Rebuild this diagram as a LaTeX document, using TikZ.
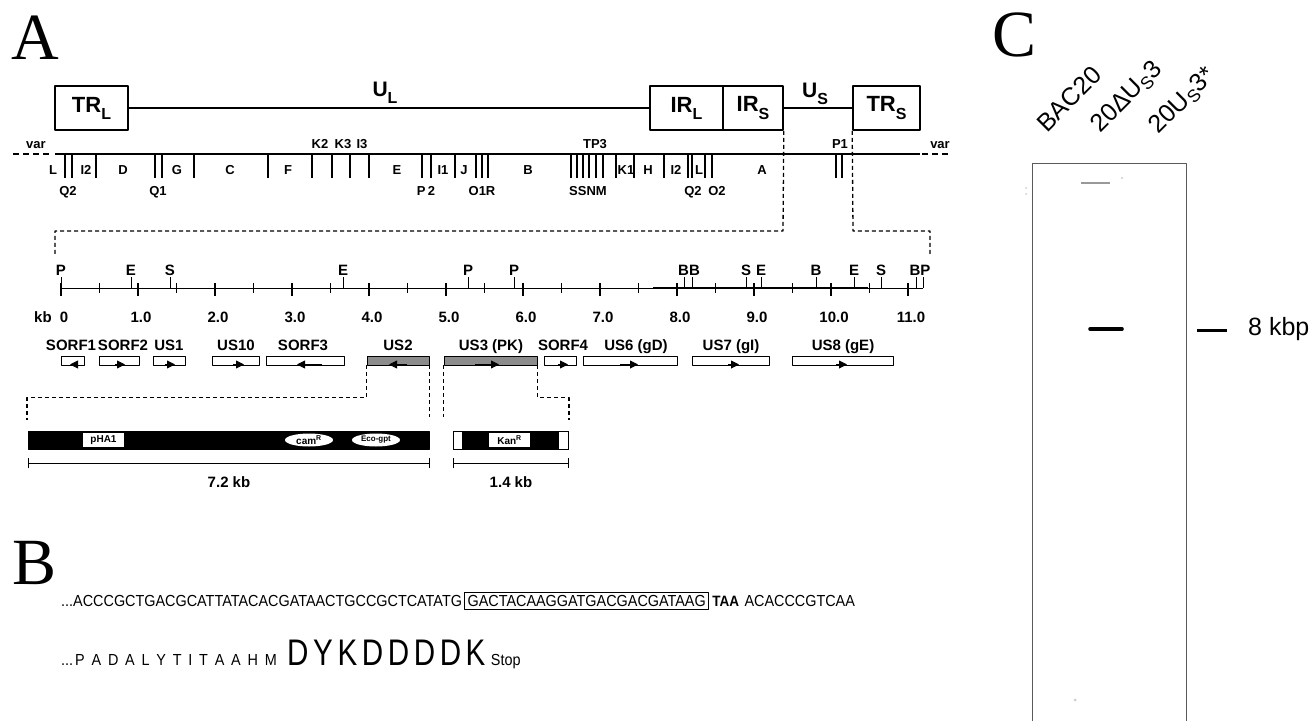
\documentclass[tikz,border=0pt]{standalone}
\usepackage{fontspec}
\setsansfont{Liberation Sans}
\newfontfamily\panelfont{Liberation Serif}
\newfontfamily\seqfont[FakeStretch=0.9]{Liberation Sans}
\newfontfamily\tagfont[FakeStretch=0.8]{Liberation Sans}
\usetikzlibrary{arrows.meta,positioning,shapes.geometric}
\definecolor{genegray}{RGB}{140,140,140}
\definecolor{gelline}{RGB}{90,90,90}
\newcommand{\fs}[1]{\fontsize{#1}{#1}\selectfont}
\newcommand{\regsub}[1]{\raisebox{-0.32em}{\fs{16}#1}}
\newcommand{\ag}{\kern6.8pt}
\newcommand{\bg}{\kern4.6pt}

\tikzset{
  region/.style={draw,line width=1.6pt,minimum height=44pt,inner sep=0pt,font=\sffamily\bfseries\fs{22}},
  maplbl/.style={font=\sffamily\bfseries\fs{13},inner sep=0pt,anchor=base},
  sitelbl/.style={font=\sffamily\bfseries\fs{15},inner sep=0pt,anchor=south},
  genelbl/.style={font=\sffamily\bfseries\fs{15},inner sep=0pt,anchor=base},
  genebox/.style={draw,line width=0.8pt,minimum height=9pt,inner sep=0pt},
  zoomline/.style={line width=1.3pt,dash pattern=on 4pt off 3pt},
  orf/.style={line width=0.9pt,-{Triangle[length=8pt,width=8pt]}},
  insert/.style={fill=white,minimum height=14pt,inner sep=0pt,font=\sffamily\bfseries\fs{10}},
  panel/.style={font=\panelfont\fs{66},inner sep=0pt},
  seqtext/.style={font=\seqfont\fs{16},inner sep=0pt},
  lane/.style={font=\sffamily\fs{25},rotate=45,inner sep=0pt},
}

\begin{document}
\begin{tikzpicture}[x=1pt,y=-1pt,line join=round]
  \useasboundingbox (0,0) rectangle (1311,720);

  % panel A: genome overview
  \node[panel] (lblA) at (35,38) {A};
  \node[region,minimum width=73pt] (TRL) at (91.5,108) {TR\regsub{L}};
  \node[region,minimum width=73pt] (IRL) at (686.5,108) {IR\regsub{L}};
  \node[region,minimum width=60pt] (IRS) at (753,108) {IR\regsub{S}};
  \node[region,minimum width=67pt] (TRS) at (886.5,108) {TR\regsub{S}};
  \draw[line width=1.2pt] (TRL) -- (IRL);
  \draw[line width=1.2pt] (IRS) -- (TRS);
  \node[font=\sffamily\bfseries\fs{21}] (UL) at (385,93) {U\regsub{L}};
  \node[font=\sffamily\bfseries\fs{21}] (USm) at (815,94) {U\regsub{S}};

  % BamHI map
  \draw[line width=2.2pt] (55,154) -- (920,154);
  \draw[line width=2pt,dash pattern=on 6pt off 4pt] (13,154) -- (50,154);
  \draw[line width=2pt,dash pattern=on 6pt off 4pt] (922,154) -- (950,154);
  \node[maplbl] at (36,148) {var};
  \node[maplbl] at (940,148) {var};
  \foreach \x in {65,72,96,155,162,194,268,312,332,350,369,422,431,455,476,482,488,
                  571,577,583,589,596,603,616,634,664,688,692,705,712,836,842}
    \draw[line width=1.8pt] (\x,154) -- (\x,178);
  \foreach \x/\t in {53/L,86/I2,123/D,177/G,230/C,288/F,397/E,443/I1,464/J,528/B,
                     626/K1,648/H,676/I2,699/L,762/A}
    \node[maplbl] at (\x,174) {\t};
  \foreach \x/\t in {68/Q2,158/Q1,426/P\,2,482/O1R,588/SSNM,693/Q2,717/O2}
    \node[maplbl] at (\x,195) {\t};
  \foreach \x/\t in {320/K2,343/K3,362/I3,595/TP3,840/P1}
    \node[maplbl] at (\x,148) {\t};

  % expanded U_S
  \coordinate (zl) at (55,255);
  \coordinate (zr) at (930,255);
  \draw[zoomline] (IRS.south east) -- (783,231) -| (zl);
  \draw[zoomline] (TRS.south west) -- (853,231) -| (zr);

  \draw[line width=0.9pt] (61,288) -- (923,288);
  \draw[line width=2pt] (653,288) -- (868,288);
  \foreach \k in {0,...,11}
    \draw[line width=2.4pt] ({61+77*\k},283) -- ({61+77*\k},296);
  \foreach \k in {0.5,1.5,...,10.5}
    \draw[line width=0.9pt] ({61+77*\k},283) -- ({61+77*\k},293);
  \node[genelbl] at (43,322) {kb};
  \foreach \k/\t in {0/0,1/1.0,2/2.0,3/3.0,4/4.0,5/5.0,6/6.0,7/7.0,8/8.0,9/9.0,10/10.0,11/11.0}
    \node[genelbl] at ({64+77*\k},322) {\t};
  \foreach \x in {61,131,170,343,468,514,684,692,746,761,816,854,881,916,923}
    \draw[line width=0.9pt] (\x,277) -- (\x,288);
  \foreach \x/\t in {61/P,131/E,170/S,343/E,468/P,514/P,689/BB,746/S,761/E,816/B,854/E,881/S,920/BP}
    \node[sitelbl] at (\x,276) {\t};

  % open reading frames
  \foreach \n/\a/\b/\lx/\t in {sorf1/61/84/71/SORF1,sorf2/99/139/123/SORF2,us1/153/185/169/US1,
      us10/212/259/236/US10,sorf3/266/344/303/SORF3,sorf4/544/576/563/SORF4,
      us6/583/677/636/US6 (gD),us7/692/769/731/US7 (gI),us8/792/893/843/US8 (gE)}
  {
    \node[genebox,minimum width=\b pt-\a pt] (\n) at ({(\a+\b)/2},360.5) {};
    \node[genelbl] at (\lx,350) {\t};
  }
  \node[genebox,fill=genegray,minimum width=62pt] (us2) at (398,360.5) {};
  \node[genelbl] at (398,350) {US2};
  \node[genebox,fill=genegray,minimum width=93pt] (us3) at (490.5,360.5) {};
  \node[genelbl] at (491,350) {US3 (PK)};
  \foreach \s/\e in {77/70,115/125,165/175,233/244,322/297,407/389,475/499,558/568,620/638,728/739,836/847}
    \draw[orf] (\s,364.5) -- (\e,364.5);

  % deletion and insertion constructs
  \node[draw,fill=black,minimum width=401pt,minimum height=18pt,inner sep=0pt,anchor=north west] (pha) at (28,431) {};
  \node[insert,minimum width=41pt] at (103.5,440) {pHA1};
  \node[insert,ellipse,minimum width=48pt,minimum height=13pt] at (309,440) {cam\textsuperscript{R}};
  \node[insert,ellipse,minimum width=48pt,minimum height=13pt,font=\sffamily\bfseries\fs{8}] at (376,440) {Eco-gpt};
  \node[draw,fill=black,minimum width=115pt,minimum height=18pt,inner sep=0pt,anchor=north west] (kan) at (453,431) {};
  \draw[fill=white,line width=0.6pt] (kan.north west) rectangle ++(9,18);
  \draw[fill=white,line width=0.6pt] (kan.north east) rectangle ++(-10,18);
  \node[insert,minimum width=41pt] at (509.5,440) {Kan\textsuperscript{R}};
  \coordinate (phaL) at (27,420);
  \coordinate (kanR) at (569,420);
  \draw[zoomline] (us2.south west) -- ++(0,32) -| (phaL);
  \draw[zoomline] (us2.south east) -- ++(0,52);
  \draw[zoomline] (us3.south west) -- ++(0,52);
  \draw[zoomline] (us3.south east) -- ++(0,32) -| (kanR);
  \draw[line width=0.9pt,{Bar[width=10pt]}-{Bar[width=10pt]}] ([yshift=-14pt]pha.south west) -- ([yshift=-14pt]pha.south east);
  \draw[line width=0.9pt,{Bar[width=10pt]}-{Bar[width=10pt]}] ([yshift=-14pt]kan.south west) -- ([yshift=-14pt]kan.south east);
  \node[genelbl] at (229,487) {7.2 kb};
  \node[genelbl] at (511,487) {1.4 kb};

  % panel B: FLAG tag sequence
  \node[panel] (lblB) at (35,563) {B};
  \node[seqtext,anchor=west] (dnaL) at (61,601) {...ACCCGCTGACGCATTATACACGATAACTGCCGCTCATATG};
  \node[seqtext,draw,line width=0.8pt,inner sep=3pt,right=2pt of dnaL] (flag) {GACTACAAGGATGACGACGATAAG};
  \node[seqtext,font=\seqfont\bfseries\fs{15},right=3pt of flag] (taa) {TAA};
  \node[seqtext,right=5pt of taa] (dnaR) {ACACCCGTCAA};
  \node[seqtext,anchor=base west] (protL) at (61,665)
    {...\kern2ptP\ag A\ag D\ag A\ag L\ag Y\ag T\ag I\ag T\ag A\ag A\ag H\ag M};
  \node[seqtext,font=\tagfont\fs{37},anchor=base west] (flagp) at ([xshift=10pt]protL.base east)
    {D\bg Y\bg K\bg D\bg D\bg D\bg D\bg K};
  \node[seqtext,anchor=base west] (stopw) at ([xshift=5pt]flagp.base east) {Stop};

  % panel C: Southern blot
  \node[panel] (lblC) at (1014,35) {C};
  \node[lane] (l1) at (1069,99) {BAC20};
  \node[lane] (l2) at (1127,97) {20ΔU\textsubscript{S}3};
  \node[lane] (l3) at (1183,101) {20U\textsubscript{S}3*};
  \draw[gelline,line width=0.9pt] (1032,725) |- (1186,163) -- (1186,725);
  \draw[black!40,line width=1.2pt] (1081,183) -- (1110,183);
  \fill[black!20] (1122,178) circle (1.2pt) (1026,188) circle (1pt) (1026,194) circle (1pt) (1075,700) circle (1.5pt);
  \draw[line width=3.6pt,line cap=round] (1090,329) -- (1122,329);
  \draw[line width=3pt] (1197,330) -- (1227,330);
  \node[font=\sffamily\fs{25},anchor=west,inner sep=0pt] (kbp) at (1248,329) {8 kbp};
\end{tikzpicture}
\end{document}
